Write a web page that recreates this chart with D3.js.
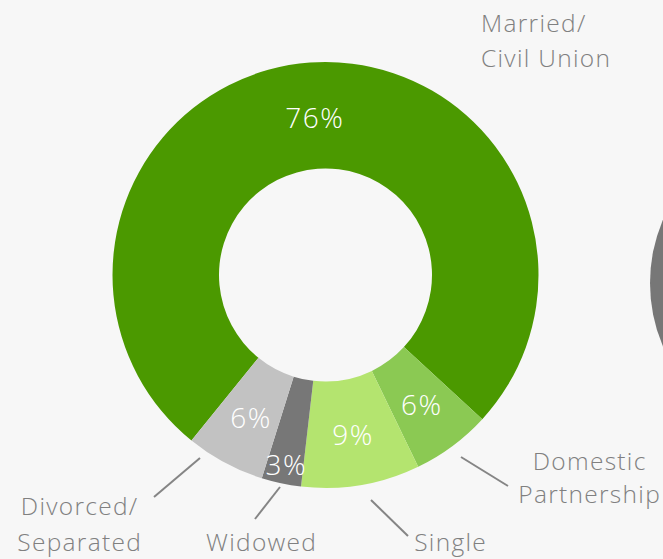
<!DOCTYPE html>
<html>
<head>
<meta charset="utf-8">
<script src="https://cdn.jsdelivr.net/npm/d3@7"></script>
<style>
  html, body { margin: 0; padding: 0; background: #f7f7f7; }
  svg { display: block; }
</style>
</head>
<body>
<svg id="chart" width="663" height="559"></svg>
<script>
// Marital status breakdown (percent of respondents)
const categories = ["Married/\nCivil Union", "Domestic\nPartnership", "Single", "Widowed", "Divorced/\nSeparated"];
const values = [76, 6, 9, 3, 6];
const sliceColors = ["#4b9900", "#8bc953", "#b4e46f", "#777777", "#c2c2c2"];

// Callout placement: label anchor, text alignment, line spacing and leader line ends
const calloutLayout = [
  { x: 481, y: 32, anchor: "start", lead: 35, line: null },
  { x: 589, y: 470, anchor: "middle", lead: 33, line: [[461, 457], [508, 486]] },
  { x: 450, y: 551, anchor: "middle", lead: 35, line: [[371, 500], [408, 536]] },
  { x: 261, y: 551, anchor: "middle", lead: 35, line: [[280, 487], [255, 519]] },
  { x: 79, y: 515, anchor: "middle", lead: 36, line: [[200, 458], [154, 497]] }
];

const W = 663, H = 559;
const cx = 325.5, cy = 275;
const outerR = 213, innerR = 106.5;
const startAngle = -141 * Math.PI / 180;

const svg = d3.select("#chart");
svg.append("rect").attr("width", W).attr("height", H).attr("fill", "#f7f7f7");

// Neighbouring chart, only its left edge falls inside the frame
svg.append("path")
  .attr("transform", "translate(811,283)")
  .attr("d", d3.arc().innerRadius(0).outerRadius(161).startAngle(0).endAngle(2 * Math.PI)())
  .attr("fill", "#777777");

const rows = categories.map((c, i) => ({ name: c, value: values[i], color: sliceColors[i], layout: calloutLayout[i] }));

const pie = d3.pie()
  .sort(null)
  .value(d => d.value)
  .startAngle(startAngle)
  .endAngle(startAngle + 2 * Math.PI);

const arc = d3.arc().innerRadius(innerR).outerRadius(outerR);
const arcs = pie(rows);

const g = svg.append("g").attr("transform", `translate(${cx},${cy})`);

g.selectAll("path.slice")
  .data(arcs)
  .join("path")
  .attr("class", "slice")
  .attr("d", arc)
  .attr("fill", d => d.data.color);

// Percent labels: centroid for wide slices, pushed toward the rim for narrow ones
const labelFont = "'Open Sans', Lato, sans-serif";
g.selectAll("text.pct")
  .data(arcs)
  .join("text")
  .attr("class", "pct")
  .attr("transform", d => {
    if (d.data.value < 5) {
      const a = (d.startAngle + d.endAngle) / 2;
      const r = outerR * 0.91;
      return `translate(${r * Math.sin(a) + 1},${-r * Math.cos(a)})`;
    }
    const [x, y] = arc.centroid(d);
    return `translate(${x + 1},${y + 2})`;
  })
  .attr("dy", "0.36em")
  .attr("text-anchor", "middle")
  .attr("font-family", labelFont)
  .attr("font-weight", 300)
  .attr("font-size", 28)
  .attr("letter-spacing", 1.5)
  .attr("fill", "#ffffff")
  .text(d => d.data.value + "%");

// Category callouts
const callouts = svg.append("g");
rows.forEach(r => {
  const L = r.layout;
  if (L.line) {
    callouts.append("line")
      .attr("x1", L.line[0][0]).attr("y1", L.line[0][1])
      .attr("x2", L.line[1][0]).attr("y2", L.line[1][1])
      .attr("stroke", "#858585")
      .attr("stroke-width", 2);
  }
  const t = callouts.append("text")
    .attr("x", L.x).attr("y", L.y)
    .attr("text-anchor", L.anchor)
    .attr("font-family", labelFont)
    .attr("font-weight", 300)
    .attr("font-size", 24.5)
    .attr("letter-spacing", 1.3)
    .attr("fill", "#808080");
  r.name.split("\n").forEach((line, i) => {
    t.append("tspan")
      .attr("x", L.anchor === "middle" ? L.x + 0.65 : L.x)
      .attr("dy", i === 0 ? 0 : L.lead)
      .text(line);
  });
});
</script>
</body>
</html>
